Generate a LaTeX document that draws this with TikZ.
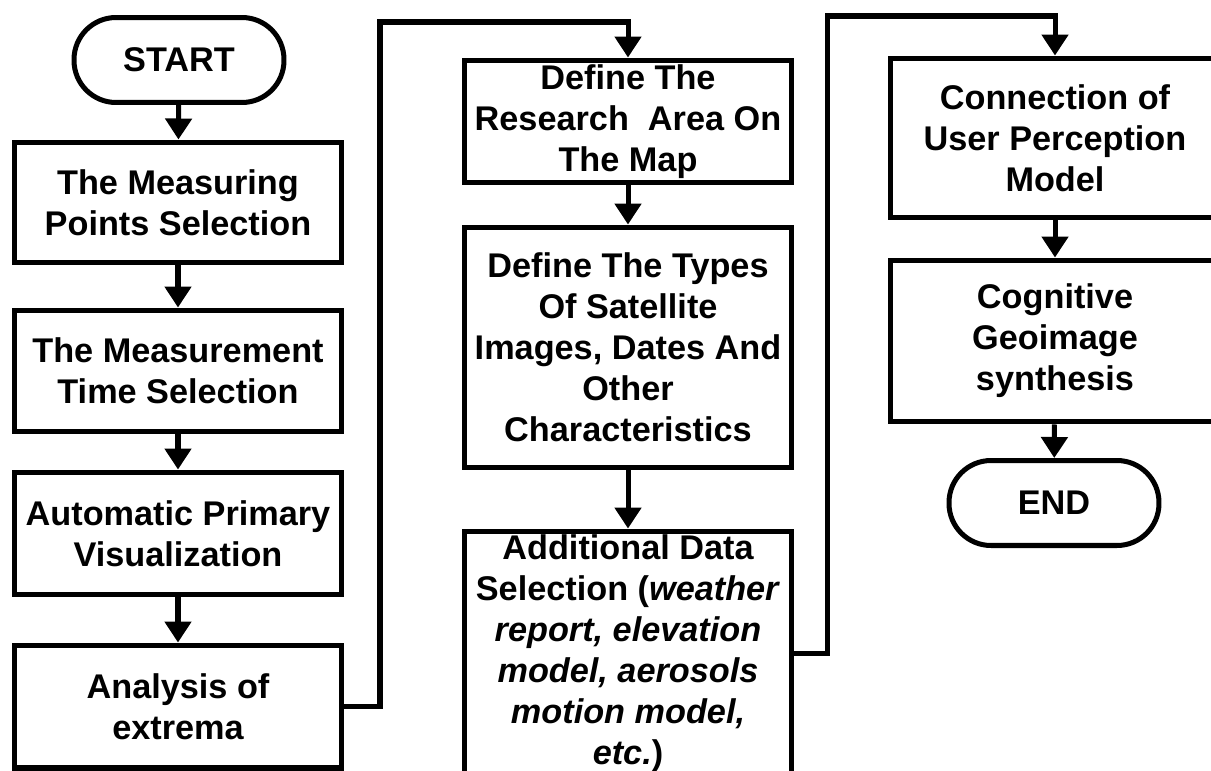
\documentclass[tikz,border=0pt]{standalone}
\usepackage{fontspec}
\setmainfont{Liberation Sans}
\usetikzlibrary{arrows.meta}
\tikzset{
  box/.style={draw=black, line width=2.85pt, rectangle, align=center, inner sep=0pt,
    font=\fontsize{19.5}{23.3}\selectfont\bfseries, minimum width=6.56cm, fill=white},
  term/.style={box, rounded corners=0.84cm, minimum width=4.2cm, minimum height=1.7cm},
  conn/.style={draw=black, line width=2.85pt, -{Triangle[length=0.42cm, width=0.52cm]}},
}
\begin{document}
\begin{tikzpicture}[x=0.02cm, y=-0.02cm]
\useasboundingbox (0,0) rectangle (1211,771);
% column 1
\node[term] (start) at (179,60) {START};
\node[box, minimum height=2.42cm] (b1) at (178,202.5) {The Measuring\\Points Selection};
\node[box, minimum height=2.44cm] (b2) at (178,371) {The Measurement\\Time Selection};
\node[box, minimum height=2.46cm] (b3) at (178,533.5) {Automatic Primary\\Visualization};
\node[box, minimum height=2.46cm] (b4) at (178,706.5) {Analysis of\\extrema};
% column 2
\node[box, minimum height=2.46cm] (b5) at (628,121.5) {Define The\\Research\ \ Area On\\The Map};
\node[box, minimum height=4.82cm] (b6) at (628,347.5) {Define The Types\\Of Satellite\\Images, Dates And\\Other\\Characteristics};
\node[box, minimum height=4.88cm] (b7) at (628,653) {Additional Data\\Selection (\textit{weather}\\\textit{report, elevation}\\\textit{model, aerosols}\\\textit{motion model,}\\\textit{etc.})};
% column 3
\node[box, minimum width=6.6cm, minimum height=3.2cm] (b8) at (1055,138) {Connection of\\User Perception\\Model};
\node[box, minimum width=6.6cm, minimum height=3.24cm] (b9) at (1055,341) {Cognitive\\Geoimage\\synthesis};
\node[term] (end) at (1054,503) {END};
% bends
\coordinate (c1) at (380,22);
\coordinate (c2) at (827,16);
% connectors
\draw[conn] (start) -- (b1);
\draw[conn] (b1) -- (b2);
\draw[conn] (b2) -- (b3);
\draw[conn] (b3) -- (b4);
\draw[conn] (b4.east) -| (c1) -| (b5.north);
\draw[conn] (b5) -- (b6);
\draw[conn] (b6) -- (b7);
\draw[conn] (b7.east) -| (c2) -| (b8.north);
\draw[conn] (b8) -- (b9);
\draw[conn] (b9) -- (end);
\end{tikzpicture}
\end{document}
